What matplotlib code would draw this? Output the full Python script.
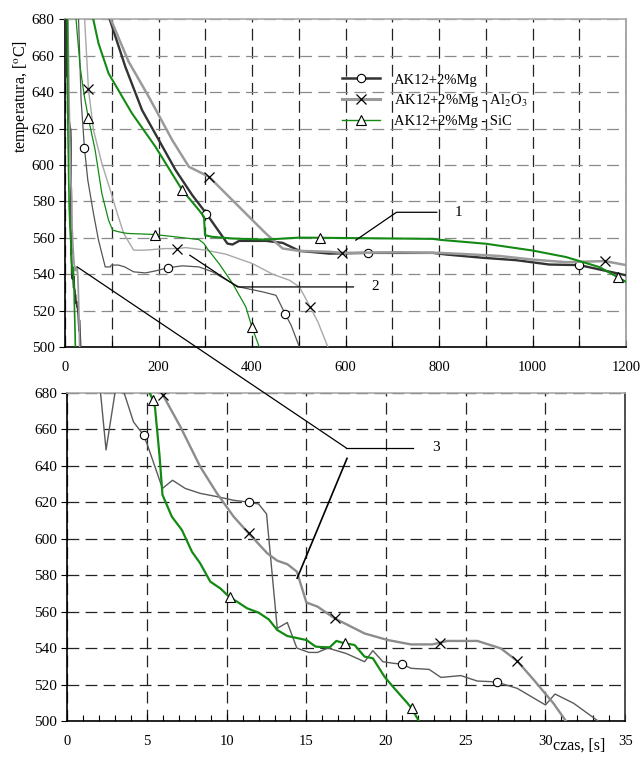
import matplotlib
matplotlib.use("Agg")
import matplotlib.pyplot as plt
from matplotlib.lines import Line2D
from matplotlib.patches import ConnectionPatch
from matplotlib.ticker import MultipleLocator

plt.rcParams["font.family"] = ["Liberation Serif", "DejaVu Serif"]
plt.rcParams["mathtext.fontset"] = "stix"
plt.rcParams["font.size"] = 10
plt.rcParams["lines.scale_dashes"] = False

# ---- data ----
# bottom panel: first 35 s of cooling
t_mg_0 = [2.05, 2.43, 3.0, 3.56, 4.15, 4.78, 5.0, 5.97, 6.6, 7.4, 8.34, 9.4, 10.44, 11.38, 12.0, 12.5,
          13.17, 13.8, 14.4, 15.16, 15.7, 16.35, 17.5, 18.65, 19.17, 19.8, 20.5, 21.0, 21.56, 22.7,
          23.44, 24.69, 25.73, 26.56, 26.98, 28.23, 30.0, 30.6, 31.77, 33.65]
T_mg_0 = [683, 648.6, 680.5, 680, 664, 656.8, 652, 627.5, 632, 627.5, 624.8, 623, 621, 620, 619, 613.5,
          550.8, 554, 540, 537.6, 537.6, 540, 537, 532.5, 538.6, 532.5, 531.6, 531.2, 528.9, 528.3,
          523.9, 524.9, 521.9, 521.6, 521.2, 517.9, 508.8, 514.8, 509.7, 497.8]
mk_mg_0 = [5, 13, 27, 34]

t_al_0 = [5.79, 6.0, 7.09, 8.34, 9.39, 10.44, 11.38, 12.54, 13.17, 13.8, 14.4, 15.0, 15.7, 16.77,
          18.65, 20.1, 21.56, 22.9, 23.4, 23.85, 25.73, 27.2, 28.23, 29.27, 30.5, 31.46]
T_al_0 = [683, 678.7, 661.4, 639.4, 624.8, 612, 602.9, 592, 587.9, 586, 581.9, 565, 562.7, 556.3,
          548, 544.4, 542, 542, 543, 543.9, 543.9, 539.8, 532.9, 522.5, 509.7, 497.8]
mk_al_0 = [1, 6, 13, 18, 22]

t_sic_0 = [5.0, 5.37, 5.5, 5.79, 5.97, 6.56, 7.19, 7.82, 8.34, 8.97, 9.6, 10.19, 10.65, 11.28, 12.0,
           12.64, 13.17, 13.8, 15.0, 15.58, 16.0, 16.46, 16.88, 17.4, 18.02, 18.65, 19.17, 19.9,
           20.42, 21.35, 21.6, 22.2]
T_sic_0 = [683, 676, 672, 645, 624, 612, 604.7, 592.8, 586.4, 576.4, 572.7, 567.8, 565.4, 561.8, 559.4,
           555.7, 549.9, 546.6, 544.4, 540.8, 540.5, 540.4, 543.9, 542.6, 541.7, 535.3, 534.4, 524.3,
           518.9, 509.7, 507, 497.8]
mk_sic_0 = [1, 11, 23, 30]

# top panel: thin curves
t_mg_1 = [28.7, 34.4, 41.5, 48.7, 60.9, 71.6, 86, 96.7, 98.9, 114.6, 127.5, 146.8, 171.9, 193.4, 219.9,
          250.7, 286.5, 315.2, 343.8, 372.5, 422.6, 451.3, 470.6, 483.5, 501.4]
T_mg_1 = [682, 635.6, 609.4, 591.7, 573.3, 558.7, 544, 544, 545, 545, 544, 541.3, 540.7, 541.8, 543.5,
          544.6, 544, 541.3, 537, 533, 530.3, 528.4, 518.3, 512, 500]
mk_mg_1 = [2, 14, 22]

t_al_1 = [41.5, 50.1, 60.9, 78.8, 96.7, 107.4, 125.4, 146.8, 171.9, 214.9, 240, 257.9, 300.9, 343.8,
          401.1, 444.1, 479.9, 501.4, 524.4, 540.8, 562.3]
T_al_1 = [682, 641.5, 619.2, 600.8, 586.2, 577, 562.4, 553.2, 553.2, 554.1, 554, 554.6, 553.2, 551,
          545.8, 540, 536.7, 533, 522, 513.8, 500]
mk_al_1 = [1, 10, 18]

t_sic_1 = [22.9, 32.2, 41.5, 50.1, 64.5, 78.8, 93.1, 101.7, 114.6, 132.5, 192, 236.4, 286.5, 297.3,
           304.4, 329.5, 358.2, 386.8, 399.7, 415.5]
T_sic_1 = [682, 654, 637.5, 625.6, 608, 584.3, 569.7, 564.2, 563.3, 562.4, 561.8, 560.5, 559, 556.8,
           554, 545.8, 535, 522, 511, 500]
mk_sic_1 = [3, 10, 18]

# top panel: thick curves
t_mg_2 = [93.1, 128.9, 164.8, 200.6, 236.4, 272.2, 302.3, 322.3, 347.4, 358.2, 372.5, 429.8, 465.6,
          501.4, 566, 647, 787, 815.6, 894, 965, 1036, 1100, 1143, 1200]
T_mg_2 = [682, 654, 630.1, 613.7, 597.2, 583.4, 573.3, 566, 556.8, 556.3, 558.3, 558.3, 557.2,
          552.8, 551.3, 551.7, 551.7, 550.8, 549, 547.7, 545.3, 545, 542.6, 539.4]
mk_mg_2 = [6, 15, 21]

t_al_2 = [94.6, 136.1, 179, 229.2, 265, 308, 343.8, 386.8, 429.8, 465.6, 501.4, 566, 593, 716, 801,
          858, 929.5, 1000, 1072, 1154, 1200]
T_al_2 = [682, 656.7, 637.5, 613.7, 599, 593.5, 584.3, 573.3, 562.3, 554.1, 552.8, 552.3, 551.7, 552,
          551.7, 551, 550, 548, 546.6, 547.2, 545]
mk_al_2 = [5, 12, 19]

t_sic_2 = [58.7, 71.6, 93.1, 143.3, 193.4, 250.7, 286.5, 297.3, 299.4, 315.2, 358.2, 429.8, 501.4,
           545, 787, 801, 901, 1000, 1072, 1143, 1182, 1207]
T_sic_2 = [682, 666.8, 650.3, 628.3, 610, 586.2, 575.2, 571.5, 561.4, 560.5, 559.6, 559, 560.1,
           560, 559.4, 558.9, 556.7, 553, 549.4, 543.9, 538.4, 534.7]
mk_sic_2 = [5, 13, 20]

labels = ["AK12+2%Mg", "AK12+2%Mg - Al$_2$O$_3$", "AK12+2%Mg - SiC"]

DARK = "#333333"
DARK_THIN = "#555555"
GRAY = "#9a9a9a"
GRAY_THIN = "#a8a8a8"
GREEN = "#138a13"

mk_circle = dict(marker="o", ms=6, mfc="white", mec="black", mew=0.8)
mk_x = dict(marker="x", ms=7, mec="black", mew=0.9)
mk_tri = dict(marker="^", ms=6.5, mfc="white", mec="black", mew=0.8)

fig = plt.figure(figsize=(6.4, 7.6), dpi=100)
ax1 = fig.add_axes([0.1016, 0.5434, 0.8766, 0.4312])
ax2 = fig.add_axes([0.1052, 0.0513, 0.8716, 0.432])


def style_axes(ax, xmax, xmaj, xmin, hgrid_color, right_color):
    ax.set_xlim(0, xmax)
    ax.set_ylim(500, 680)
    ax.xaxis.set_major_locator(MultipleLocator(xmaj))
    ax.xaxis.set_minor_locator(MultipleLocator(xmin))
    ax.yaxis.set_major_locator(MultipleLocator(20))
    ax.tick_params(axis="x", which="both", direction="in", length=4, width=0.8, pad=10, labelsize=10.5)
    ax.tick_params(axis="x", which="major", length=5)
    ax.tick_params(axis="y", direction="out", length=4, width=0.8, labelsize=11)
    for s in ("left", "bottom"):
        ax.spines[s].set_linewidth(1.2)
        ax.spines[s].set_color("black")
    ax.spines["top"].set_color("#aaaaaa")
    ax.spines["top"].set_linewidth(1.2)
    ax.spines["right"].set_color(right_color)
    ax.spines["right"].set_linewidth(1.2)
    ax.yaxis.grid(True, color=hgrid_color, lw=0.9, dashes=(8.5, 4.5))
    ax.set_axisbelow(True)


style_axes(ax1, 1200, 200, 100, "#8a8a8a", "#999999")
style_axes(ax2, 35, 5, 1, "#222222", "#333333")
# vertical grid: every 100 s on top, every 5 s on bottom
ax1.xaxis.grid(True, which="both", color="#222222", lw=0.9, dashes=(8.5, 4.5))
ax2.xaxis.grid(True, which="major", color="#222222", lw=0.9, dashes=(8.5, 4.5))

# --- top panel ---
ax1.plot(t_mg_0, T_mg_0, color=DARK, lw=1.3, zorder=3)
ax1.plot(t_al_0, T_al_0, color=GRAY, lw=1.3, zorder=3)
ax1.plot(t_sic_0, T_sic_0, color=GREEN, lw=1.2, zorder=3)

ax1.plot(t_mg_1, T_mg_1, color=DARK_THIN, lw=0.9, markevery=mk_mg_1, **mk_circle, zorder=4)
ax1.plot(t_al_1, T_al_1, color=GRAY_THIN, lw=1.0, markevery=mk_al_1, **mk_x, zorder=4)
ax1.plot(t_sic_1, T_sic_1, color=GREEN, lw=0.9, markevery=mk_sic_1, **mk_tri, zorder=4)

ax1.plot(t_mg_2, T_mg_2, color=DARK, lw=1.7, markevery=mk_mg_2, **mk_circle, zorder=4)
ax1.plot(t_al_2, T_al_2, color=GRAY, lw=1.8, markevery=mk_al_2, **mk_x, zorder=4)
ax1.plot(t_sic_2, T_sic_2, color=GREEN, lw=1.5, markevery=mk_sic_2, **mk_tri, zorder=4)

ax1.set_ylabel("temperatura, [$^{\\mathrm{o}}$C]", fontsize=11.5)
ax1.yaxis.set_label_coords(-0.06, 0.765)

handles = [
    Line2D([], [], color=DARK, lw=1.8, **mk_circle),
    Line2D([], [], color=GRAY, lw=2.2, **mk_x),
    Line2D([], [], color=GREEN, lw=1.0, **mk_tri),
]
ax1.legend(handles, labels, loc="upper left", bbox_to_anchor=(0.47, 0.875), frameon=False,
           numpoints=1, handlelength=2.6, handletextpad=1.0, labelspacing=0.4, fontsize=10.5)

# annotation 1 and 2
ax1.plot([622, 709, 795], [558.7, 574, 574], color="black", lw=0.9, zorder=5)
ax1.text(834, 574, "1", fontsize=11, va="center")
ax1.plot([267, 369, 617], [550.4, 533, 533], color="black", lw=0.9, zorder=5)
ax1.text(656, 533, "2", fontsize=11, va="center")

# --- bottom panel ---
ax2.plot(t_mg_0, T_mg_0, color="#5a5a5a", lw=1.0, markevery=mk_mg_0, **mk_circle, zorder=4)
ax2.plot(t_al_0, T_al_0, color="#8c8c8c", lw=1.7, markevery=mk_al_0, **mk_x, zorder=4)
ax2.plot(t_sic_0, T_sic_0, color=GREEN, lw=1.6, markevery=mk_sic_0, **mk_tri, zorder=4)

ax2.text(0.965, -0.052, "czas, [s]", transform=ax2.transAxes, ha="right", va="top", fontsize=11.5)

# annotation 3 spanning both panels
con = ConnectionPatch(xyA=(26, 544), coordsA=ax1.transData,
                      xyB=(17.5, 649.7), coordsB=ax2.transData, color="black", lw=0.9)
fig.add_artist(con)
ax2.plot([17.5, 21.7], [649.7, 649.7], color="black", lw=0.9, zorder=5)
ax2.plot([17.55, 14.42], [644, 578.3], color="black", lw=1.2, zorder=5)
ax2.text(22.9, 650, "3", fontsize=11, va="center")

fig.savefig("out.png", dpi=100)
